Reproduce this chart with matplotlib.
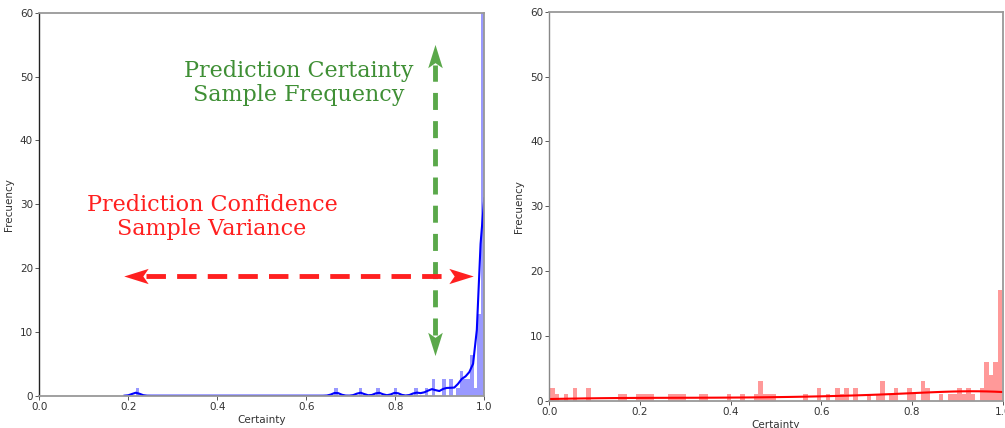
import matplotlib
matplotlib.use("Agg")
import matplotlib.pyplot as plt
import numpy as np
from matplotlib.path import Path

# Certainty scores (value, how many samples) for each model
left_certainty = [0.2173, 0.667, 0.721, 0.762, 0.801, 0.8465, 0.869, 0.885,
                  0.909, 0.925, 0.940, 0.948, 0.956, 0.964, 0.972, 0.980,
                  0.988, 0.9995]
left_counts = [1, 1, 1, 1, 1, 1, 1, 2,
               2, 2, 1, 3, 2, 2, 5, 1,
               10, 63]

right_certainty = [0.002, 0.015, 0.035, 0.055, 0.085, 0.155, 0.165, 0.195,
                   0.205, 0.215, 0.225, 0.265, 0.275, 0.285, 0.295, 0.335,
                   0.345, 0.395, 0.425, 0.455, 0.465, 0.475, 0.485, 0.495,
                   0.565, 0.595, 0.615, 0.635, 0.645, 0.655, 0.675, 0.705,
                   0.725, 0.735, 0.755, 0.765, 0.795, 0.805, 0.825, 0.835,
                   0.865, 0.885, 0.895, 0.905, 0.915, 0.925, 0.935, 0.955,
                   0.965, 0.975, 0.985, 0.999]
right_counts = [2, 1, 1, 2, 2, 1, 1, 1,
                1, 1, 1, 1, 1, 1, 1, 1,
                1, 1, 1, 1, 3, 1, 1, 1,
                1, 2, 1, 2, 1, 2, 2, 1,
                1, 3, 1, 2, 2, 1, 3, 2,
                1, 1, 1, 2, 1, 2, 1, 2,
                6, 4, 6, 17]

N_BINS = 100


def kde_curve(samples, gridsize=100, cut=3):
    """Gaussian KDE with the normal-reference bandwidth."""
    n = len(samples)
    std = samples.std(ddof=1)
    q75, q25 = np.percentile(samples, [75, 25])
    a = min(std, (q75 - q25) / 1.349)
    bw = 1.059 * a * n ** -0.2
    grid = np.linspace(samples.min() - cut * bw, samples.max() + cut * bw, gridsize)
    z = (grid[:, None] - samples[None, :]) / bw
    dens = np.exp(-0.5 * z ** 2).sum(axis=1) / (n * bw * np.sqrt(2 * np.pi))
    return grid, dens


def stealth(direction):
    """Notched arrow-head marker pointing up/down/left/right."""
    verts = np.array([(0, 1.0), (-0.5, -0.6), (0, -0.25), (0.5, -0.6), (0, 1.0)])
    rot = {"up": 0, "down": 180, "left": 90, "right": -90}[direction]
    t = np.deg2rad(rot)
    r = np.array([[np.cos(t), -np.sin(t)], [np.sin(t), np.cos(t)]])
    verts = verts @ r.T
    codes = [Path.MOVETO, Path.LINETO, Path.LINETO, Path.LINETO, Path.CLOSEPOLY]
    return Path(verts, codes)


def dist_panel(ax, values, counts, color, spine_left="#888888"):
    samples = np.repeat(np.array(values), counts)
    ax.hist(samples, bins=N_BINS, density=True, color=color, alpha=0.4)
    grid, dens = kde_curve(samples)
    ax.plot(grid, dens, color=color, lw=1.5)
    ax.set_xlim(0, 1)
    ax.set_ylim(0, 60)
    ax.set_xticks([0.0, 0.2, 0.4, 0.6, 0.8, 1.0])
    ax.set_yticks(range(0, 61, 10))
    ax.set_xlabel("Certainty", fontsize=7.5, color="#333333", labelpad=2)
    ax.set_ylabel("Frecuency", fontsize=7.5, color="#333333", labelpad=4)
    ax.tick_params(labelsize=7.5, labelcolor="#333333", length=3, width=0.7,
                   color="#555555", pad=1.5)
    for side in ("top", "right", "bottom"):
        ax.spines[side].set_color("#999999")
        ax.spines[side].set_linewidth(1.3)
    ax.spines["left"].set_color(spine_left)
    ax.spines["left"].set_linewidth(1.0)


fig = plt.figure(figsize=(10.05, 4.28), dpi=100)
ax1 = fig.add_axes([0.0391, 0.0755, 0.4428, 0.8949])
ax2 = fig.add_axes([0.5466, 0.0631, 0.4511, 0.9096])

dist_panel(ax1, left_certainty, left_counts, "blue", spine_left="#222222")
dist_panel(ax2, right_certainty, right_counts, "red")

# Annotations on the left panel
green_txt = "#3f8f35"
green_arr = "#5aa84a"
red = "#ff2020"

ax1.text(0.584, 49.0, "Prediction Certainty\nSample Frequency", color=green_txt,
         fontsize=16, family="DejaVu Serif", ha="center", va="center",
         linespacing=1.15)
ax1.text(0.388, 28.0, "Prediction Confidence\nSample Variance", color=red,
         fontsize=16, family="DejaVu Serif", ha="center", va="center",
         linespacing=1.15)

# vertical dashed double arrow (green)
gx, gy0, gy1 = 0.889, 9.5, 51.8
ax1.plot([gx, gx], [gy0, gy1], color=green_arr, lw=3.5, ls=(0, (3.5, 2.3)),
         solid_capstyle="butt", dash_capstyle="butt")
ax1.plot([gx], [gy1 + 1.0], marker=stealth("up"), ms=21, color=green_arr, mew=0)
ax1.plot([gx], [gy0 - 1.0], marker=stealth("down"), ms=21, color=green_arr, mew=0)

# horizontal dashed double arrow (red)
rx0, rx1, ry = 0.240, 0.925, 18.7
ax1.plot([rx0, rx1], [ry, ry], color=red, lw=3.5, ls=(0, (4, 2.3)),
         solid_capstyle="butt", dash_capstyle="butt")
ax1.plot([rx0 - 0.016], [ry], marker=stealth("left"), ms=22, color=red, mew=0)
ax1.plot([rx1 + 0.016], [ry], marker=stealth("right"), ms=22, color=red, mew=0)

fig.savefig("out.png", dpi=100)
